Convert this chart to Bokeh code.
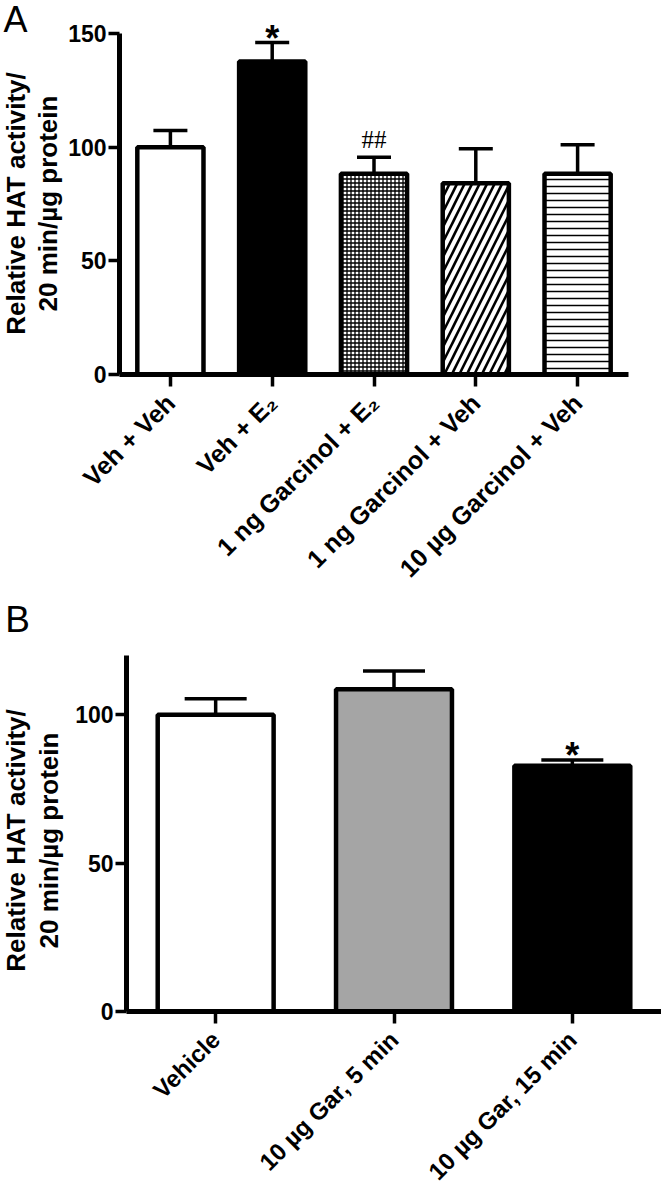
import math
from bokeh.plotting import figure
from bokeh.models import ColumnDataSource, FactorRange, Range1d, FixedTicker, Whisker, TeeHead
from bokeh.layouts import column, row
from bokeh.embed import file_html
from bokeh.resources import INLINE
from bokeh.core.properties import value

# ---------------- data ----------------
a_groups = ["Veh + Veh", "Veh + E\u2082", "1 ng Garcinol + E\u2082",
            "1 ng Garcinol + Veh", "10 \u00b5g Garcinol + Veh"]
a_means = [100.0, 137.7, 88.3, 84.1, 88.3]
a_sem = [7.3, 8.3, 7.3, 15.2, 12.8]
a_marks = ["", "*", "##", "", ""]
a_ticks = [0, 50, 100, 150]

b_groups = ["Vehicle", "10 \u00b5g Gar, 5 min", "10 \u00b5g Gar, 15 min"]
b_means = [100.0, 108.6, 82.8]
b_sem = [5.4, 6.2, 2.0]
b_marks = ["", "", "*"]
b_ticks = [0, 50, 100]

ylabel1 = "Relative HAT activity/"
ylabel2 = "20 min/\u00b5g protein"
panel_a = "A"
panel_b = "B"

# ---------------- styles ----------------
a_fill = ["white", "black", "white", "white", "white"]
a_hatch = [" ", " ", "cross", "right_diagonal_line", "horizontal_line"]
a_hscale = [4, 4, 4, 15, 7]
a_hweight = [1, 1, 1.3, 2.6, 1.5]
b_fill = ["white", "#a5a5a5", "black"]

FONT = "Liberation Sans"
TOTAL_W = 661
STRIP_W = 64
MAIN_W = TOTAL_W - STRIP_W


def no_align(p):
    try:
        p.frame_align = False
    except Exception:
        pass


def style_axes(p, yticks, ybounds, xfont, xstandoff):
    p.xgrid.visible = False
    p.ygrid.visible = False
    p.outline_line_color = None
    for ax in (p.xaxis, p.yaxis):
        ax.axis_line_width = 5
        ax.axis_line_color = "black"
        ax.major_tick_line_width = 3.5
        ax.major_tick_line_color = "black"
        ax.major_tick_in = 0
        ax.minor_tick_in = 0
        ax.minor_tick_out = 0
        ax.major_label_text_font = FONT
        ax.major_label_text_font_style = "bold"
        ax.major_label_text_color = "black"
    p.yaxis.ticker = FixedTicker(ticks=yticks)
    p.yaxis.bounds = ybounds
    p.yaxis.major_tick_out = 11
    p.yaxis.major_label_standoff = 2
    p.yaxis.major_label_text_font_size = "23px"
    p.xaxis.major_tick_out = 12
    p.xaxis.major_label_standoff = xstandoff
    p.xaxis.major_label_orientation = math.pi / 4
    p.xaxis.major_label_text_font_size = xfont


def add_bars(p, groups, means, sems, fills, hatch=None, hscale=None, hweight=None, cap=34):
    data = dict(x=groups, top=means, upper=[m + s for m, s in zip(means, sems)], fill=fills)
    kw = {}
    if hatch is not None:
        data.update(hatch=hatch, hscale=hscale, hweight=hweight)
        kw = dict(hatch_pattern="hatch", hatch_scale="hscale", hatch_weight="hweight",
                  hatch_color="black")
    src = ColumnDataSource(data)
    wh = Whisker(source=src, base="x", lower="top", upper="upper", dimension="height",
                 line_width=3.5, line_color="black", lower_head=None,
                 upper_head=TeeHead(size=cap, line_width=3.5, line_color="black"))
    p.add_layout(wh)
    p.vbar(x="x", top="top", bottom=0, width=0.65, source=src, fill_color="fill",
           line_color="black", line_width=4.5, **kw)


def marks(p, groups, means, sems, labels, keep, font, size, style, yoff):
    xs, ys, ts = [], [], []
    for g, m, s, t in zip(groups, means, sems, labels):
        if t == keep:
            xs.append(g); ys.append(m + s); ts.append(t)
    if xs:
        p.text(x=xs, y=ys, text=ts, text_align="center", text_baseline="alphabetic",
               y_offset=yoff, text_font=value(font), text_font_size=size,
               text_font_style=style, text_color="black")


def strip(height, letter, letter_xy, letter_size, lab_x1, lab_x2, lab_y):
    s = figure(width=STRIP_W, height=height, x_range=Range1d(0, STRIP_W),
               y_range=Range1d(0, height), output_backend="svg", toolbar_location=None,
               x_axis_location=None, y_axis_location=None, min_border=0,
               min_border_left=0, min_border_right=0, min_border_top=0, min_border_bottom=0)
    s.grid.visible = False
    s.outline_line_color = None
    no_align(s)
    s.text(x=[lab_x1, lab_x2], y=[height - lab_y] * 2, text=[ylabel1, ylabel2],
           angle=math.pi / 2, text_align="center", text_baseline="middle",
           text_font=value(FONT), text_font_style="bold", text_font_size="26px",
           text_color="black")
    s.text(x=[letter_xy[0]], y=[height - letter_xy[1]], text=[letter], text_align="center",
           text_baseline="middle", text_font=value(FONT), text_font_size=letter_size,
           text_color="black")
    return s


# ---------------- panel A ----------------
HA = 597
A_L, A_R, A_T, A_B = 119 - STRIP_W, 628 - STRIP_W, 5, 374
a_ppu_y = (374 - 33) / 150.0
a_yend = (A_B - A_T) / a_ppu_y
pA = figure(width=MAIN_W, height=HA, x_range=FactorRange(factors=a_groups),
            y_range=Range1d(0, a_yend), output_backend="svg", toolbar_location=None,
            min_border_left=A_L, min_border_right=MAIN_W - A_R, min_border_top=A_T,
            min_border_bottom=HA - A_B)
no_align(pA)
style_axes(pA, a_ticks, (0, 150), "25px", 12)
add_bars(pA, a_groups, a_means, a_sem, a_fill, a_hatch, a_hscale, a_hweight, cap=34)
marks(pA, a_groups, a_means, a_sem, a_marks, "*", FONT, "36px", "bold", -4)
marks(pA, a_groups, a_means, a_sem, a_marks, "##", "Liberation Serif", "25px", "normal", -18)
sA = strip(HA, panel_a, (15, 19), "36px", 15, 47, 203)

# ---------------- panel B ----------------
HB = 1199 - HA
B_L, B_R = 126 - STRIP_W, MAIN_W
b_ppu_y = (1011.5 - 715) / 100.0
B_B = round(1011.5 - HA)
B_T = round(B_B - 120 * b_ppu_y)
pB = figure(width=MAIN_W, height=HB, x_range=FactorRange(factors=b_groups),
            y_range=Range1d(0, 120), output_backend="svg", toolbar_location=None,
            min_border_left=B_L, min_border_right=MAIN_W - B_R, min_border_top=B_T,
            min_border_bottom=HB - B_B)
no_align(pB)
style_axes(pB, b_ticks, (0, 120), "24px", 12)
add_bars(pB, b_groups, b_means, b_sem, b_fill, cap=62)
marks(pB, b_groups, b_means, b_sem, b_marks, "*", FONT, "36px", "bold", -4)
sB = strip(HB, panel_b, (17, 22), "37px", 15, 48, 243)

rowA = row(sA, pA, spacing=0)
rowB = row(sB, pB, spacing=0)
layout = column(rowA, rowB, spacing=0)
open("out.html", "w").write(file_html(layout, INLINE))
